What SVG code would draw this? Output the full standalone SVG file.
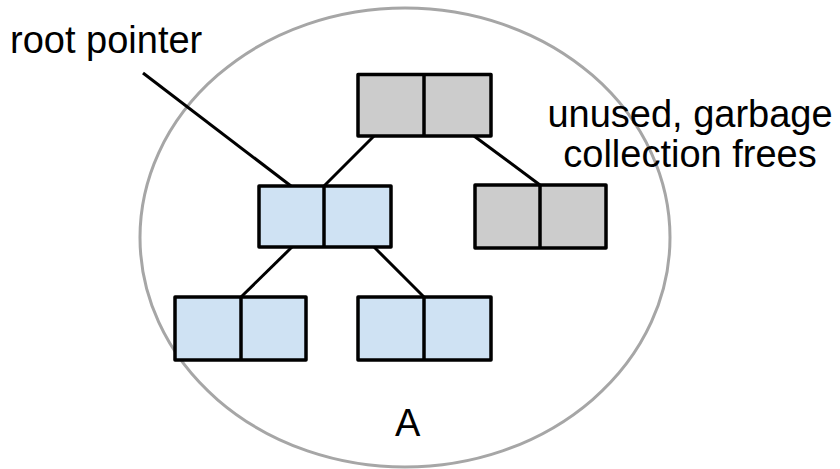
<svg xmlns="http://www.w3.org/2000/svg" width="840" height="469" viewBox="0 0 840 469">
  <style>
    .label { font-family: "Liberation Sans", Arial, sans-serif; font-size: 38px; fill: #000; }
    .cell { stroke: #000; stroke-width: 3.5; stroke-linejoin: round; }
    .used { fill: #cfe2f3; }
    .free { fill: #cccccc; }
    .link { stroke: #000; stroke-width: 3; fill: none; }
  </style>
  <rect width="840" height="469" fill="#fff"/>

  <!-- heap boundary -->
  <ellipse id="heap" cx="405" cy="237.5" rx="265" ry="229.5" fill="none" stroke="#a6a6a6" stroke-width="3"/>

  <!-- connectors -->
  <g id="connectors">
    <line class="link" x1="143" y1="73" x2="291" y2="186"/>
    <line class="link" x1="374" y1="136" x2="324" y2="186"/>
    <line class="link" x1="474" y1="136" x2="540" y2="185"/>
    <line class="link" x1="292" y1="247" x2="241" y2="297"/>
    <line class="link" x1="374" y1="247" x2="424" y2="297"/>
  </g>

  <!-- two-cell nodes -->
  <g id="node-top">
    <rect class="cell free" x="358" y="74.5" width="133" height="61.5"/>
    <line class="cell" x1="424" y1="74.5" x2="424" y2="136"/>
  </g>
  <g id="node-mid-left">
    <rect class="cell used" x="259" y="186" width="132" height="61"/>
    <line class="cell" x1="324" y1="186" x2="324" y2="247"/>
  </g>
  <g id="node-mid-right">
    <rect class="cell free" x="475" y="185" width="131" height="63"/>
    <line class="cell" x1="540" y1="185" x2="540" y2="248"/>
  </g>
  <g id="node-bottom-left">
    <rect class="cell used" x="175" y="297" width="131" height="63"/>
    <line class="cell" x1="241" y1="297" x2="241" y2="360"/>
  </g>
  <g id="node-bottom-right">
    <rect class="cell used" x="358" y="297" width="133" height="63"/>
    <line class="cell" x1="424" y1="297" x2="424" y2="360"/>
  </g>

  <!-- labels -->
  <g id="labels">
    <text class="label" x="10" y="53">root pointer</text>
    <text class="label" x="690" y="127" text-anchor="middle">unused, garbage</text>
    <text class="label" x="690" y="167" text-anchor="middle">collection frees</text>
    <text class="label" x="395" y="436">A</text>
  </g>
</svg>
